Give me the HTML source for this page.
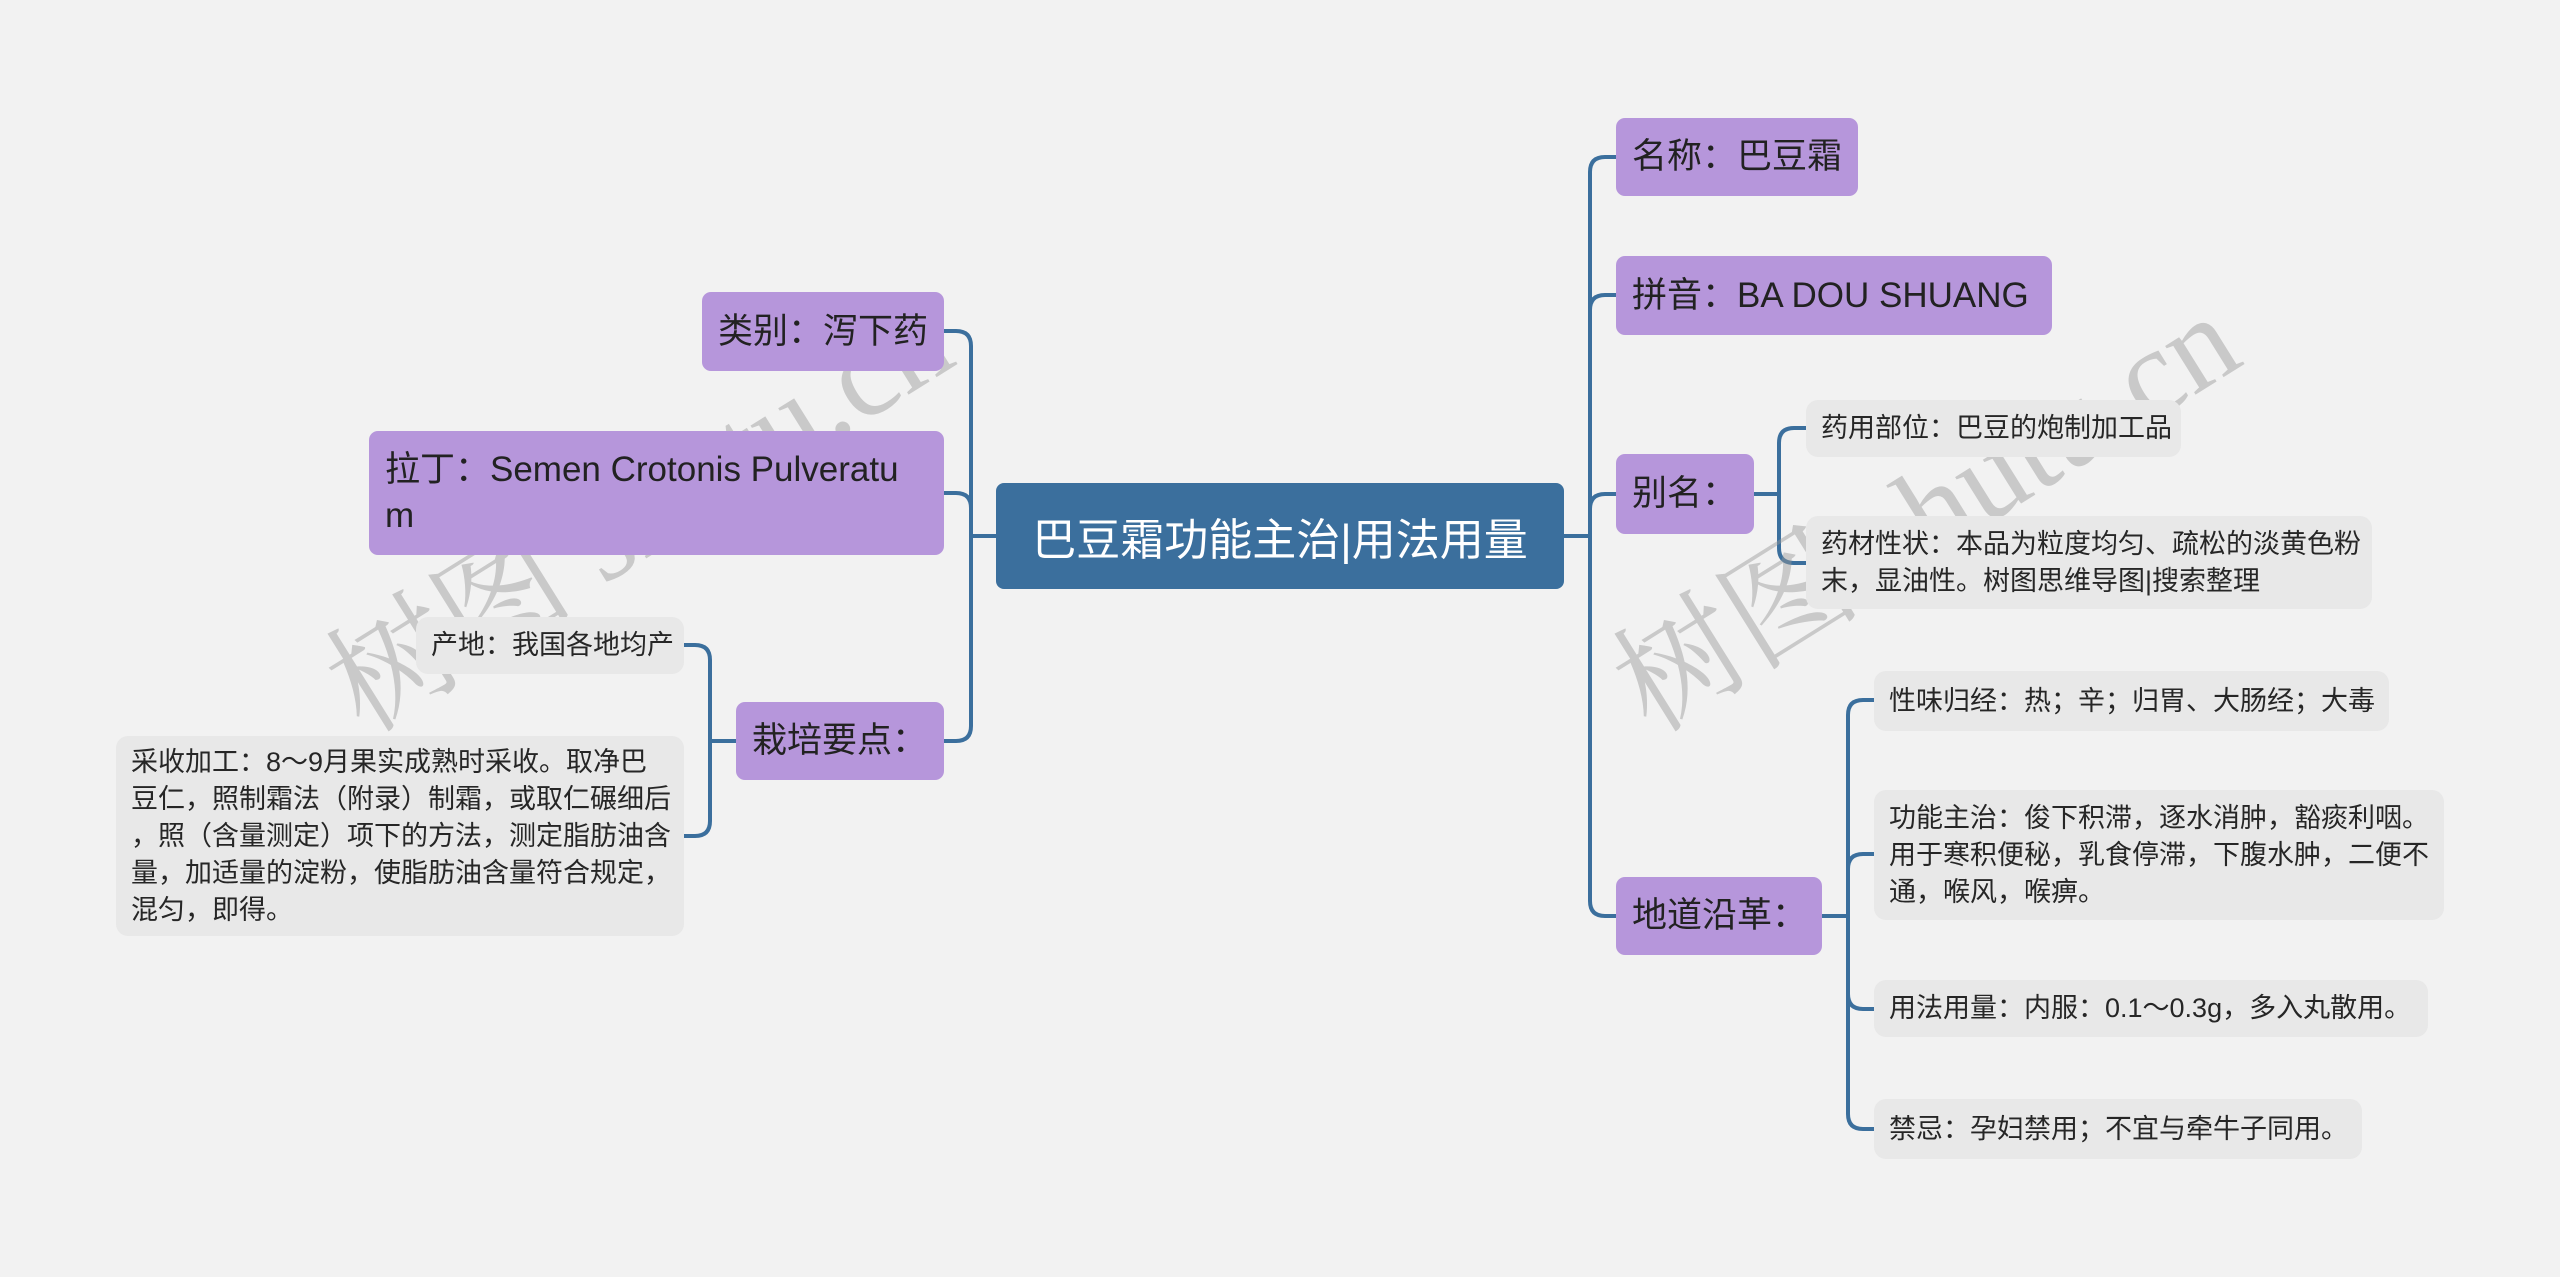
<!DOCTYPE html>
<html><head><meta charset="utf-8"><style>
html,body{margin:0;padding:0}
body{width:2560px;height:1277px;background:#f2f2f2;position:relative;overflow:hidden;font-family:"Liberation Sans","Noto Sans CJK SC",sans-serif;}
.n{position:absolute;box-sizing:border-box;white-space:nowrap;color:#222;}
.p{background:#b696db;border-radius:9px;font-size:35px;line-height:46px;padding:0 16px;display:flex;align-items:center;}
.l{background:#e8e8e8;border-radius:12px;font-size:27px;line-height:37px;padding:0 15px;display:flex;align-items:center;color:#262626}
.c{background:#3b6f9d;border-radius:8px;color:#fff;font-size:44px;display:flex;align-items:center;justify-content:center;}
svg{position:absolute;left:0;top:0}
.wm{position:absolute;width:900px;height:140px;line-height:140px;text-align:center;font-family:"Liberation Serif","Noto Serif CJK SC",serif;font-size:125px;color:rgba(150,150,150,0.45);transform:rotate(-32deg);white-space:nowrap;}
</style></head><body>
<svg width="2560" height="1277" fill="none" stroke="#3b6f9d" stroke-width="4">
<path d="M996 536 H971"/>
<path d="M971 536 V346 Q971 331 956 331 H944"/>
<path d="M971 536 V508 Q971 493 956 493 H944"/>
<path d="M971 536 V726 Q971 741 956 741 H944"/>
<path d="M736 741 H710"/>
<path d="M710 741 V660 Q710 645 695 645 H684"/>
<path d="M710 741 V821 Q710 836 695 836 H684"/>
<path d="M1564 536 H1590"/>
<path d="M1590 536 V172 Q1590 157 1605 157 H1616"/>
<path d="M1590 536 V310 Q1590 295 1605 295 H1616"/>
<path d="M1590 536 V509 Q1590 494 1605 494 H1616"/>
<path d="M1590 536 V901 Q1590 916 1605 916 H1616"/>
<path d="M1754 494 H1779"/>
<path d="M1779 494 V443 Q1779 428 1794 428 H1806"/>
<path d="M1779 494 V548 Q1779 563 1794 563 H1806"/>
<path d="M1822 916 H1848"/>
<path d="M1848 916 V715 Q1848 700 1863 700 H1874"/>
<path d="M1848 916 V869 Q1848 854 1863 854 H1874"/>
<path d="M1848 916 V994 Q1848 1009 1863 1009 H1874"/>
<path d="M1848 916 V1114 Q1848 1129 1863 1129 H1874"/>
</svg>

<div class="wm" style="left:190px;top:444px;">树图 shutu.cn</div>
<div class="wm" style="left:1477px;top:444px;">树图 shutu.cn</div>

<div class="n c" style="left:996px;top:483px;width:568px;height:106px;">巴豆霜功能主治|用法用量</div>

<div class="n p" style="left:702px;top:292px;width:242px;height:79px;">类别：泻下药</div>
<div class="n p" style="left:369px;top:431px;width:575px;height:124px;">拉丁：Semen Crotonis Pulveratu<br>m</div>
<div class="n p" style="left:736px;top:702px;width:208px;height:78px;">栽培要点：</div>
<div class="n l" style="left:416px;top:617px;width:268px;height:57px;">产地：我国各地均产</div>
<div class="n l" style="left:116px;top:736px;width:568px;height:200px;">采收加工：8～9月果实成熟时采收。取净巴<br>豆仁，照制霜法（附录）制霜，或取仁碾细后<br>，照（含量测定）项下的方法，测定脂肪油含<br>量，加适量的淀粉，使脂肪油含量符合规定，<br>混匀，即得。</div>

<div class="n p" style="left:1616px;top:118px;width:242px;height:78px;">名称：巴豆霜</div>
<div class="n p" style="left:1616px;top:256px;width:436px;height:79px;">拼音：BA DOU SHUANG</div>
<div class="n p" style="left:1616px;top:454px;width:138px;height:80px;">别名：</div>
<div class="n p" style="left:1616px;top:877px;width:206px;height:78px;">地道沿革：</div>

<div class="n l" style="left:1806px;top:400px;width:375px;height:57px;">药用部位：巴豆的炮制加工品</div>
<div class="n l" style="left:1806px;top:516px;width:566px;height:93px;">药材性状：本品为粒度均匀、疏松的淡黄色粉<br>末，显油性。树图思维导图|搜索整理</div>
<div class="n l" style="left:1874px;top:671px;width:515px;height:60px;">性味归经：热；辛；归胃、大肠经；大毒</div>
<div class="n l" style="left:1874px;top:790px;width:570px;height:130px;">功能主治：俊下积滞，逐水消肿，豁痰利咽。<br>用于寒积便秘，乳食停滞，下腹水肿，二便不<br>通，喉风，喉痹。</div>
<div class="n l" style="left:1874px;top:980px;width:554px;height:57px;">用法用量：内服：0.1～0.3g，多入丸散用。</div>
<div class="n l" style="left:1874px;top:1099px;width:488px;height:60px;">禁忌：孕妇禁用；不宜与牵牛子同用。</div>
</body></html>
